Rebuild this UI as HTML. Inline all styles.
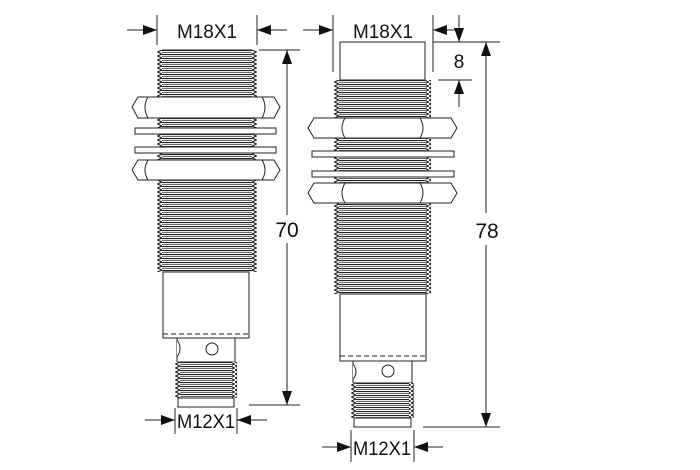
<!DOCTYPE html>
<html><head><meta charset="utf-8"><style>
html,body{margin:0;padding:0;background:#fff;}
svg{display:block;}
text{font-family:"Liberation Sans",sans-serif;fill:#111;}
</style></head><body>
<svg width="700" height="470" viewBox="0 0 700 470" xmlns="http://www.w3.org/2000/svg">
<defs>
<pattern id="th" width="10" height="4" patternUnits="userSpaceOnUse">
<rect width="10" height="4" fill="#fff"/>
<line x1="0" y1="0.5" x2="10" y2="0.5" stroke="#222" stroke-width="1.2"/>
<line x1="0" y1="2.5" x2="10" y2="2.5" stroke="#666" stroke-width="1"/>
</pattern>
<pattern id="zl" width="5" height="4" patternUnits="userSpaceOnUse">
<rect width="5" height="4" fill="#fff"/>
<polyline points="5,0 0.5,2 5,4" fill="none" stroke="#222" stroke-width="1.2"/>
</pattern>
<pattern id="zr" width="5" height="4" patternUnits="userSpaceOnUse">
<rect width="5" height="4" fill="#fff"/>
<polyline points="0,0 4.5,2 0,4" fill="none" stroke="#222" stroke-width="1.2"/>
</pattern>
<marker id="ah" viewBox="0 0 14 10" refX="14" refY="5" markerWidth="14" markerHeight="10" markerUnits="userSpaceOnUse" orient="auto">
<path d="M0,0 L14,5 L0,10 z" fill="#111"/></marker>
</defs>

<g stroke="#222" stroke-width="1" fill="none">
<!-- LEFT SENSOR -->
<g transform="translate(157,50)"><rect x="5" y="0" width="90" height="222" fill="url(#th)" stroke="none"/>
<rect x="0" y="0" width="5" height="222" fill="url(#zl)" stroke="none"/><rect x="95" y="0" width="5" height="222" fill="url(#zr)" stroke="none"/>
<line x1="5" y1="0" x2="95" y2="0"/></g>
<g fill="#fff">
<path d="M132,107 L138,97 L274,97 L280,107 L274,118 L138,118 Z"/>
<path d="M148,97 Q142,107 148,118 M262,97 Q268,107 262,118" fill="none"/>
<rect x="135" y="128" width="141" height="6"/>
<rect x="135" y="147" width="141" height="6"/>
<path d="M132,170 L138,160 L274,160 L280,170 L274,180 L138,180 Z"/>
<path d="M148,160 Q142,170 148,180 M262,160 Q268,170 262,180" fill="none"/>
<rect x="163" y="272" width="86" height="66"/>
<line x1="163" y1="334" x2="249" y2="334" stroke-dasharray="5,3"/>
<rect x="177" y="338" width="58" height="24"/>
<circle cx="212" cy="349" r="6"/>
<path d="M177,340 Q183,348 177,357"/>
</g>
<g transform="translate(175,362)"><rect x="5" y="0" width="52" height="36" fill="url(#th)" stroke="none"/>
<rect x="0" y="0" width="5" height="36" fill="url(#zl)" stroke="none"/><rect x="57" y="0" width="5" height="36" fill="url(#zr)" stroke="none"/>
<rect x="3" y="36" width="56" height="9" fill="#fff"/></g>

<!-- RIGHT SENSOR -->
<rect x="340" y="42" width="85" height="38" fill="#fff"/>
<g transform="translate(334,80)"><rect x="5" y="0" width="87" height="214" fill="url(#th)" stroke="none"/>
<rect x="0" y="0" width="5" height="214" fill="url(#zl)" stroke="none"/><rect x="92" y="0" width="5" height="214" fill="url(#zr)" stroke="none"/></g>
<g fill="#fff">
<path d="M308,128 L314,118 L451,118 L457,128 L451,138 L314,138 Z"/>
<path d="M345,118 Q339,128 345,138 M420,118 Q426,128 420,138" fill="none"/>
<rect x="312" y="151" width="142" height="6"/>
<rect x="312" y="171" width="142" height="6"/>
<path d="M308,193 L314,183 L451,183 L457,193 L451,203 L314,203 Z"/>
<path d="M345,183 Q339,193 345,203 M420,183 Q426,193 420,203" fill="none"/>
<rect x="340" y="294" width="86" height="67"/>
<line x1="340" y1="356" x2="426" y2="356" stroke-dasharray="5,3"/>
<rect x="353" y="361" width="59" height="22"/>
<circle cx="388" cy="371" r="6"/>
<path d="M353,364 Q359,372 353,379"/>
</g>
<g transform="translate(351,383)"><rect x="5" y="0" width="53" height="35" fill="url(#th)" stroke="none"/>
<rect x="0" y="0" width="5" height="35" fill="url(#zl)" stroke="none"/><rect x="58" y="0" width="5" height="35" fill="url(#zr)" stroke="none"/>
<rect x="3" y="35" width="57" height="9" fill="#fff"/></g>

<!-- DIMENSIONS LEFT -->
<line x1="157" y1="15" x2="157" y2="45"/><line x1="257" y1="15" x2="257" y2="45"/>
<line x1="127" y1="30" x2="157" y2="30" marker-end="url(#ah)"/>
<line x1="287" y1="30" x2="257" y2="30" marker-end="url(#ah)"/>
<line x1="259" y1="50" x2="300" y2="50"/>
<line x1="249" y1="405" x2="300" y2="405"/>
<line x1="287" y1="215" x2="287" y2="50" marker-end="url(#ah)"/>
<line x1="287" y1="243" x2="287" y2="405" marker-end="url(#ah)"/>
<line x1="175" y1="408" x2="175" y2="434"/><line x1="237" y1="408" x2="237" y2="434"/>
<line x1="145" y1="420" x2="175" y2="420" marker-end="url(#ah)"/>
<line x1="267" y1="420" x2="237" y2="420" marker-end="url(#ah)"/>

<!-- DIMENSIONS RIGHT -->
<line x1="333" y1="15" x2="333" y2="72"/><line x1="433" y1="15" x2="433" y2="72"/>
<line x1="303" y1="30" x2="333" y2="30" marker-end="url(#ah)"/>
<line x1="455" y1="30" x2="433" y2="30" marker-end="url(#ah)"/>
<line x1="433" y1="42" x2="500" y2="42"/>
<line x1="438" y1="80" x2="472" y2="80"/>
<line x1="459" y1="15" x2="459" y2="42" marker-end="url(#ah)"/>
<line x1="459" y1="107" x2="459" y2="80" marker-end="url(#ah)"/>
<line x1="423" y1="427" x2="500" y2="427"/>
<line x1="486" y1="213" x2="486" y2="42" marker-end="url(#ah)"/>
<line x1="486" y1="245" x2="486" y2="427" marker-end="url(#ah)"/>
<line x1="351" y1="430" x2="351" y2="462"/><line x1="414" y1="430" x2="414" y2="462"/>
<line x1="322" y1="447" x2="351" y2="447" marker-end="url(#ah)"/>
<line x1="443" y1="447" x2="414" y2="447" marker-end="url(#ah)"/>
</g>

<g font-size="19" text-anchor="middle">
<text x="207" y="38" textLength="60" lengthAdjust="spacingAndGlyphs">M18X1</text>
<text x="383" y="38" textLength="60" lengthAdjust="spacingAndGlyphs">M18X1</text>
<text x="206" y="428" textLength="58" lengthAdjust="spacingAndGlyphs">M12X1</text>
<text x="382" y="455" textLength="58" lengthAdjust="spacingAndGlyphs">M12X1</text>
<text x="287" y="237" font-size="21">70</text>
<text x="487" y="238" font-size="21">78</text>
<text x="459" y="68" font-size="19">8</text>
</g>
</svg>
</body></html>
